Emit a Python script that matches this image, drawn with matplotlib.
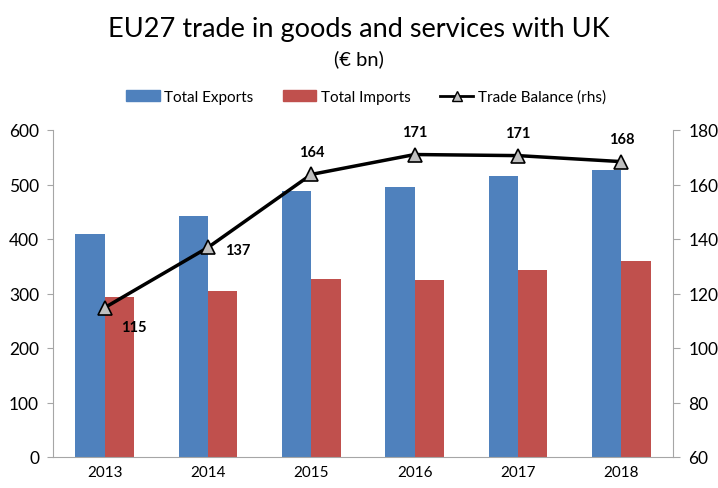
import matplotlib
matplotlib.use("Agg")
import matplotlib.pyplot as plt
import numpy as np
from matplotlib.lines import Line2D
from matplotlib.patches import Patch

years = ["2013", "2014", "2015", "2016", "2017", "2018"]
exports = [409, 442, 488, 495, 515, 527]
imports = [294, 305, 326, 324, 344, 360]
balance = [114.8, 136.9, 163.7, 171.0, 170.6, 168.4]

plt.rcParams["font.family"] = ["Lato", "DejaVu Sans"]

blue = "#4F81BD"
red = "#C0504D"
grey = "#A6A6A6"

fig = plt.figure(figsize=(7.18, 4.89), dpi=100)
ax = fig.add_axes([53 / 718, 31 / 489, 620 / 718, 327 / 489])
x = np.arange(len(years))
w = 0.285
ax.bar(x - w / 2, exports, width=w, color=blue, zorder=2)
ax.bar(x + w / 2, imports, width=w, color=red, zorder=2)
ax.set_xlim(-0.5, len(years) - 0.5)
ax.set_ylim(0, 600)
ax.set_yticks(range(0, 601, 100))
ax.set_xticks(x)
ax.set_xticklabels(years)
ax.tick_params(axis="x", length=0, labelsize=11, pad=6)
ax.tick_params(axis="y", length=4, color=grey, labelsize=12.5, pad=6)
for s in ["top", "right"]:
    ax.spines[s].set_visible(False)
for s in ["left", "bottom"]:
    ax.spines[s].set_color(grey)

ax2 = ax.twinx()
ax2.plot(x, balance, color="black", lw=2.5, marker="^", markersize=10,
         markerfacecolor="#BFBFBF", markeredgecolor="black", markeredgewidth=1.2,
         zorder=3)
ax2.set_ylim(60, 180)
ax2.set_yticks(range(60, 181, 20))
ax2.tick_params(axis="y", length=5, color=grey, labelsize=12.5, pad=6)
for s in ["top", "left", "bottom"]:
    ax2.spines[s].set_visible(False)
ax2.spines["right"].set_color(grey)

offsets = [(12, -14), (12, -2), (0, 16), (0, 16), (0, 16), (0, 16)]
for xi, v, (dx, dy) in zip(x, balance, offsets):
    ha = "left" if dx > 0 else "center"
    ax2.annotate(f"{v:.0f}", (xi, v), xytext=(dx, dy), textcoords="offset points",
                 ha=ha, va="center", fontsize=10.5, fontweight="bold")

fig.text(0.5, 1 - 30 / 489, "EU27 trade in goods and services with UK",
         ha="center", va="center", fontsize=19.5)
fig.text(0.5, 1 - 59 / 489, "(€ bn)", ha="center", va="center", fontsize=14.5)

handles = [Patch(color=blue, label="Total Exports"),
           Patch(color=red, label="Total Imports"),
           Line2D([0], [0], color="black", lw=2, marker="^", markersize=7,
                  markerfacecolor="#BFBFBF", markeredgecolor="black",
                  label="Trade Balance (rhs)")]
fig.legend(handles=handles, loc="center", bbox_to_anchor=(0.51, 1 - 98 / 489),
           ncol=3, frameon=False, fontsize=11, handlelength=2.2,
           handleheight=0.7, columnspacing=1.9, handletextpad=0.3)

fig.savefig("out.png", dpi=100)
